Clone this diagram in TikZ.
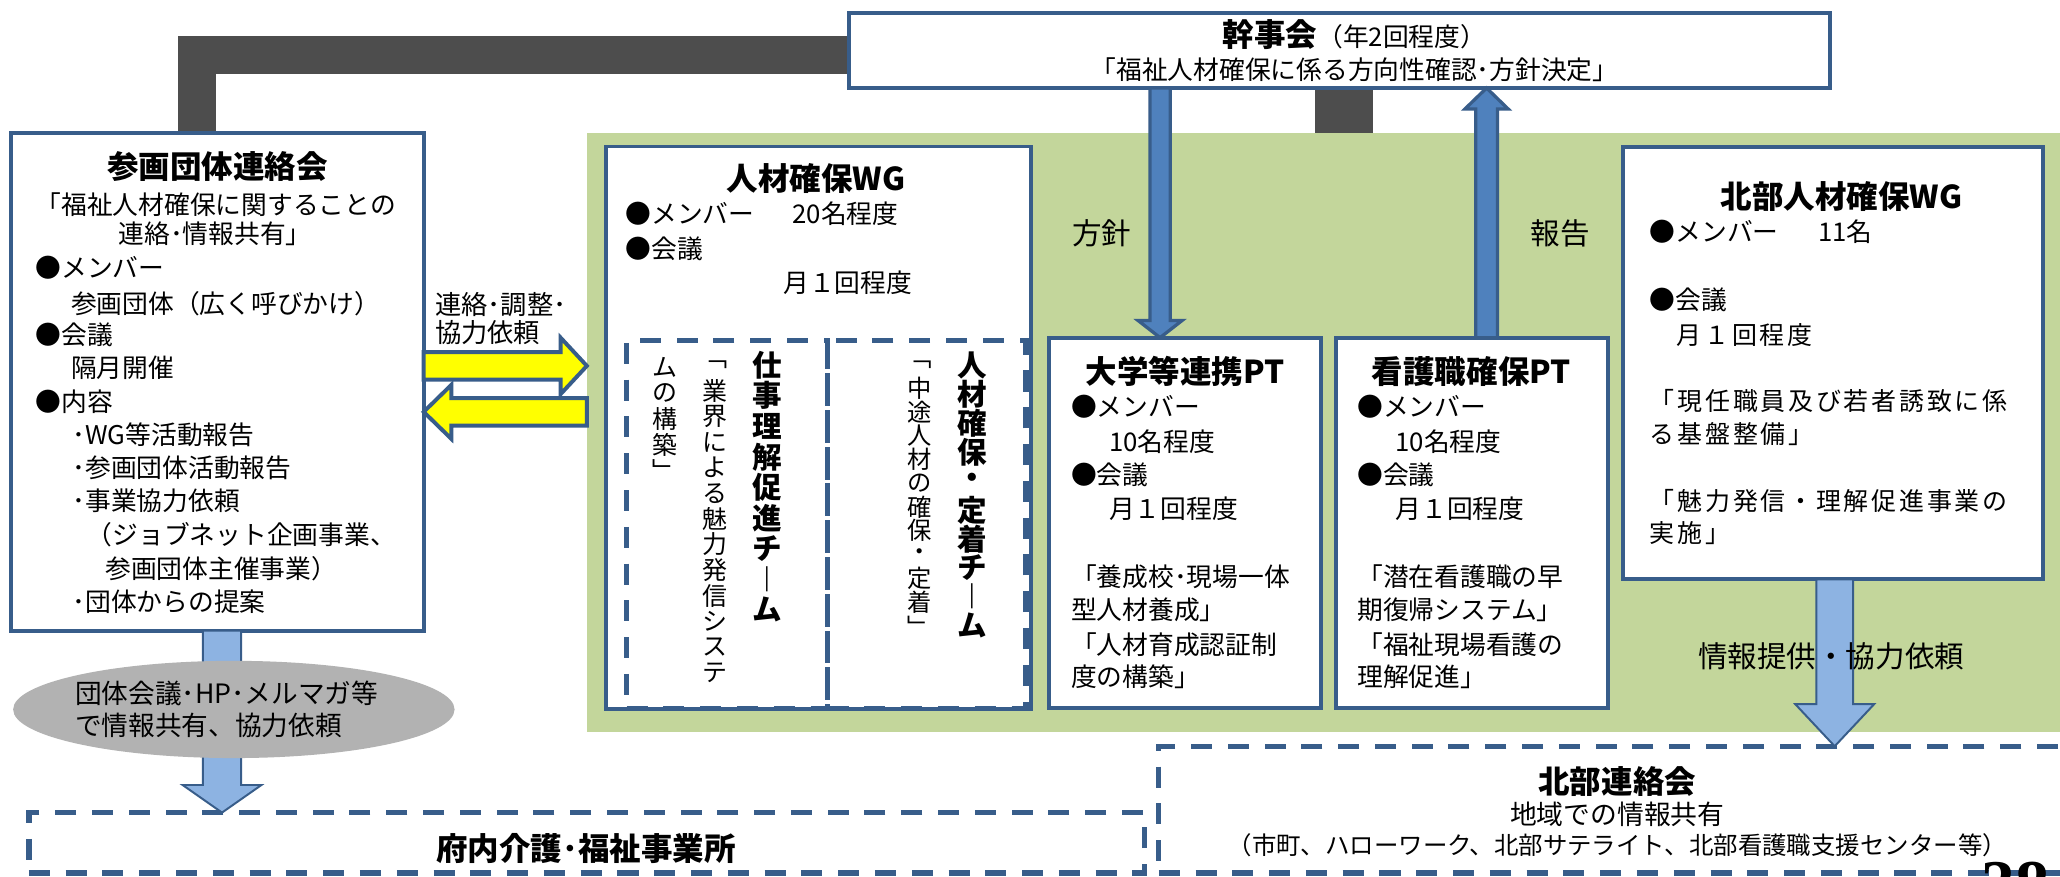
\documentclass[tikz,border=0pt]{standalone}
\usepackage{fontspec}
\setmainfont{Noto Sans CJK JP}
\newfontfamily\pgnumfont{Liberation Serif}
\usetikzlibrary{calc,shapes.geometric}
\definecolor{bord}{HTML}{385D8A}
\definecolor{greenbg}{HTML}{C3D69B}
\definecolor{darkbar}{HTML}{4D4D4D}
\definecolor{lblue}{HTML}{8DB3E2}
\definecolor{mblue}{HTML}{4F81BD}
\definecolor{ellgray}{HTML}{B2B2B2}
\definecolor{yel}{HTML}{FFFF00}

\ExplSyntaxOn
\NewDocumentCommand\vcol{mm}{\vbox{\offinterlineskip\tl_map_inline:nn{#2}{\vbox~to~#1{\vss\hbox~to~1em{\hss##1\hss}\vss}}}}
\ExplSyntaxOff

% fat arrows: #1 start, #2 tip, #3 half shaft, #4 half head, #5 head length, #6 style
\newcommand\fatDown[6]{\draw[#6] ($(#1)+(-#3,0)$) -- ($(#2)+(-#3,-#5)$) -- ($(#2)+(-#4,-#5)$) -- (#2) -- ($(#2)+(#4,-#5)$) -- ($(#2)+(#3,-#5)$) -- ($(#1)+(#3,0)$) -- cycle;}
\newcommand\fatUp[6]{\draw[#6] ($(#1)+(-#3,0)$) -- ($(#2)+(-#3,#5)$) -- ($(#2)+(-#4,#5)$) -- (#2) -- ($(#2)+(#4,#5)$) -- ($(#2)+(#3,#5)$) -- ($(#1)+(#3,0)$) -- cycle;}
\newcommand\fatRight[6]{\draw[#6] ($(#1)+(0,-#3)$) -- ($(#2)+(-#5,-#3)$) -- ($(#2)+(-#5,-#4)$) -- (#2) -- ($(#2)+(-#5,#4)$) -- ($(#2)+(-#5,#3)$) -- ($(#1)+(0,#3)$) -- cycle;}
\newcommand\fatLeft[6]{\draw[#6] ($(#1)+(0,-#3)$) -- ($(#2)+(#5,-#3)$) -- ($(#2)+(#5,-#4)$) -- (#2) -- ($(#2)+(#5,#4)$) -- ($(#2)+(#5,#3)$) -- ($(#1)+(0,#3)$) -- cycle;}

\begin{document}
\begin{tikzpicture}[x=1pt,y=-1pt,
 box/.style={draw=bord,line width=3pt,fill=white,rectangle,inner sep=0pt,outer sep=0pt,anchor=north west},
 dbox/.style={draw=bord,line width=4pt,dash pattern=on 16pt off 12pt,rectangle,inner sep=0pt,outer sep=0pt,anchor=north west},
 txt/.style={inner sep=0pt,anchor=west,font=\fontsize{19.6}{22}\selectfont},
 ctxt/.style={inner sep=0pt,anchor=center,font=\fontsize{19.6}{22}\selectfont},
 ttl/.style={inner sep=0pt,anchor=center,font=\fontsize{24}{26}\selectfont\bfseries},
 lbl/.style={inner sep=0pt,anchor=center,font=\fontsize{22.5}{24}\selectfont},
 bar/.style={draw=darkbar,line width=29pt},
 yarrow/.style={fill=yel,draw=bord,line width=3pt,line join=miter},
 barrow/.style={fill=mblue,draw=bord,line width=2.5pt,line join=miter},
 larrow/.style={fill=lblue,draw=bord,line width=1.5pt,line join=miter},
 vtxt/.style={inner sep=0pt,anchor=north}]

\useasboundingbox (0,0) rectangle (1568,667);
\clip (0,0) rectangle (1568,667);
\fill[white] (0,0) rectangle (1568,667);

% green background
\node[fill=greenbg,rectangle,inner sep=0pt,outer sep=0pt,anchor=north west,minimum width=1130pt,minimum height=455.5pt] (green) at (446.7,101.5) {};

% boxes
\node[box,minimum width=747pt,minimum height=57pt] (kanji) at (646,10) {};
\node[box,minimum width=314pt,minimum height=379pt] (sankaku) at (8.5,101) {};
\node[box,minimum width=324pt,minimum height=428.5pt] (wg) at (461,111.5) {};
\node[box,minimum width=206.7pt,minimum height=282pt] (pt1) at (798.7,257) {};
\node[box,minimum width=207pt,minimum height=282pt] (pt2) at (1017,257) {};
\node[box,minimum width=320pt,minimum height=329pt] (hwg) at (1235,112) {};
\node[dbox,minimum width=849pt,minimum height=46pt] (funai) at (22,618.5) {};
\node[dbox,minimum width=700pt,minimum height=96.5pt] (hren) at (882,568) {};
\node[dbox,minimum width=153pt,minimum height=280pt] (team1) at (477,259) {};
\node[dbox,minimum width=151pt,minimum height=280pt] (team2) at (630,259) {};

% dark connectors
\coordinate (yb) at (0,41.8);
\coordinate (xb) at (150,0);
\coordinate (xc) at (1023,0);
\draw[bar] ([xshift=-1.5pt]kanji.west |- yb) -| ([yshift=1.5pt]sankaku.north -| xb);
\draw[bar,line width=44pt] ([yshift=-1.5pt]kanji.south -| xc) -- (green.north -| xc);

% helper coordinates
\coordinate (xl) at (169,0);
\coordinate (xr) at (1396.5,0);
\coordinate (xh) at (883,0);
\coordinate (xk) at (1131.5,0);
\coordinate (ya) at (0,278.5);
\coordinate (yc) at (0,313.5);
\coordinate (la1) at (sankaku.south -| xl);
\coordinate (la2) at (funai.north -| xl);
\coordinate (ra1) at (hwg.south -| xr);
\coordinate (ra2) at (hren.north -| xr);
\coordinate (hk1) at (kanji.south -| xh);
\coordinate (hk2) at (pt1.north -| xh);
\coordinate (rp1) at (pt2.north -| xk);
\coordinate (rp2) at (kanji.south -| xk);
\coordinate (ya1) at (sankaku.east |- ya);
\coordinate (ya2) at (green.west |- ya);
\coordinate (yb1) at (green.west |- yc);
\coordinate (yb2) at (sankaku.east |- yc);

% arrows
\fatDown{la1}{la2}{14.5}{30}{21}{larrow}
\fatDown{ra1}{ra2}{14}{30}{32}{larrow}
\fatRight{ya1}{ya2}{10.5}{21.5}{20}{yarrow}
\fatLeft{yb1}{yb2}{10.5}{20.5}{21}{yarrow}
\fatDown{hk1}{hk2}{7.7}{16.7}{13}{barrow}
\fatUp{rp1}{rp2}{8.3}{16.5}{16}{barrow}

% ellipse
\node[ellipse,fill=ellgray,minimum width=336pt,minimum height=74pt,inner sep=0pt] (ell) at (178,540) {};
\node[txt,font=\fontsize{20.3}{22}\selectfont] (e1) at (57,528) {団体会議･HP･メルマガ等};
\node[txt,font=\fontsize{20.3}{22}\selectfont] (e2) at (57,552) {で情報共有、協力依頼};

% 幹事会
\node[inner sep=0pt] (k1) at (1031,26.6) {{\fontsize{24}{26}\selectfont\bfseries 幹事会}{\fontsize{19.6}{22}\selectfont （年2回程度）}};
\node[ctxt] (k2) at (1031,53) {「福祉人材確保に係る方向性確認･方針決定」};

% 参画団体連絡会
\node[ttl] (st) at (165.6,127) {参画団体連絡会};
\foreach \xx/\yy/\tx [count=\i] in {27/156/{「福祉人材確保に関することの},
 90/178/{連絡･情報共有」}, 27/204/{●メンバー}, 54/231/{参画団体（広く呼びかけ）},
 27/255/{●会議}, 54/280/{隔月開催}, 27/306/{●内容}, 55/331/{･WG等活動報告},
 55/356/{･参画団体活動報告}, 55/381/{･事業協力依頼}, 66/407/{（ジョブネット企画事業、},
 80/433/{参画団体主催事業）}, 55/458/{･団体からの提案}}
 \node[txt] (s\i) at (\xx,\yy) {\tx};

% 連絡・調整 label
\node[txt,font=\fontsize{20}{22}\selectfont] (r1) at (331,232) {連絡･調整･};
\node[txt,font=\fontsize{20}{22}\selectfont] (r2) at (331,253.5) {協力依頼};

% 人材確保WG
\node[ttl] (wt) at (621,136) {人材確保WG};
\node[txt] (w1) at (476,162.7) {●メンバー\hspace{29pt}20名程度};
\node[txt] (w2) at (476,189) {●会議};
\node[txt] (w3) at (596,215) {月１回程度};
\node[vtxt,font=\fontsize{22.5}{23}\selectfont\bfseries] (tv1) at (584,266) {\vcol{23.3pt}{仕事理解促進チ︱ム}};
\node[vtxt,font=\fontsize{19}{20}\selectfont] (tv2) at (544,268) {\vcol{19.5pt}{﹁業界による魅力発信システ}};
\node[vtxt,font=\fontsize{19}{20}\selectfont] (tv3) at (506,270) {\vcol{19.5pt}{ムの構築﹂}};
\node[vtxt,font=\fontsize{22.5}{23}\selectfont\bfseries] (tv4) at (740,267) {\vcol{22pt}{人材確保・定着チ︱ム}};
\node[vtxt,font=\fontsize{18.5}{20}\selectfont] (tv5) at (700,268) {\vcol{18.1pt}{﹁中途人材の確保・定着﹂}};

% 方針 / 報告
\node[lbl] (hoshin) at (838.5,177.6) {方針};
\node[lbl] (hokoku) at (1187.5,177.6) {報告};

% 大学等連携PT
\node[ttl] (p1t) at (902,282.8) {大学等連携PT};
\foreach \xx/\yy/\tx [count=\i] in {815/309.5/{●メンバー}, 844/336/{10名程度}, 815/361.5/{●会議},
 844/387/{月１回程度}, 815/439/{「養成校･現場一体}, 815/464.3/{型人材養成」},
 815/491/{「人材育成認証制}, 815/515/{度の構築」}}
 \node[txt] (pa\i) at (\xx,\yy) {\tx};

% 看護職確保PT
\node[ttl] (p2t) at (1120,282.8) {看護職確保PT};
\foreach \xx/\yy/\tx [count=\i] in {1033/309.5/{●メンバー}, 1062/336/{10名程度}, 1033/361.5/{●会議},
 1062/387/{月１回程度}, 1033/439/{「潜在看護職の早}, 1033/464.3/{期復帰システム」},
 1033/491/{「福祉現場看護の}, 1033/515/{理解促進」}}
 \node[txt] (pb\i) at (\xx,\yy) {\tx};

% 北部人材確保WG
\node[ttl] (ht) at (1401.6,149.9) {北部人材確保WG};
\node[txt] (h1) at (1255.7,176) {●メンバー\hspace{30pt}11名};
\node[txt] (h2) at (1255.7,228.5) {●会議};
\foreach \xx/\yy/\tx [count=\i] in {1276/254.7/{月１回程度}, 1255.7/305.6/{「現任職員及び若者誘致に係},
 1255.7/330.4/{る基盤整備」}, 1255.7/381.4/{「魅力発信・理解促進事業の}, 1255.7/406.1/{実施」}}
 \node[txt,font=\fontsize{19}{22}\selectfont\addfontfeatures{LetterSpace=11}] (hb\i) at (\xx,\yy) {\tx};

\node[lbl] (info) at (1393.8,499.3) {情報提供・協力依頼};

% bottom boxes
\node[ttl] (ft) at (446,645.6) {府内介護･福祉事業所};
\node[ttl] (nt) at (1231,595) {北部連絡会};
\node[ctxt,font=\fontsize{20.4}{22}\selectfont] (n1) at (1231,620) {地域での情報共有};
\node[ctxt,font=\fontsize{18.6}{22}\selectfont] (n2) at (1231,643) {（市町、ハローワーク、北部サテライト、北部看護職支援センター等）};

% page number fragment
\node[inner sep=0pt,anchor=north west,font=\pgnumfont\bfseries\fontsize{52}{52}\selectfont] (pg) at (1508,656) {38};
\end{tikzpicture}
\end{document}
